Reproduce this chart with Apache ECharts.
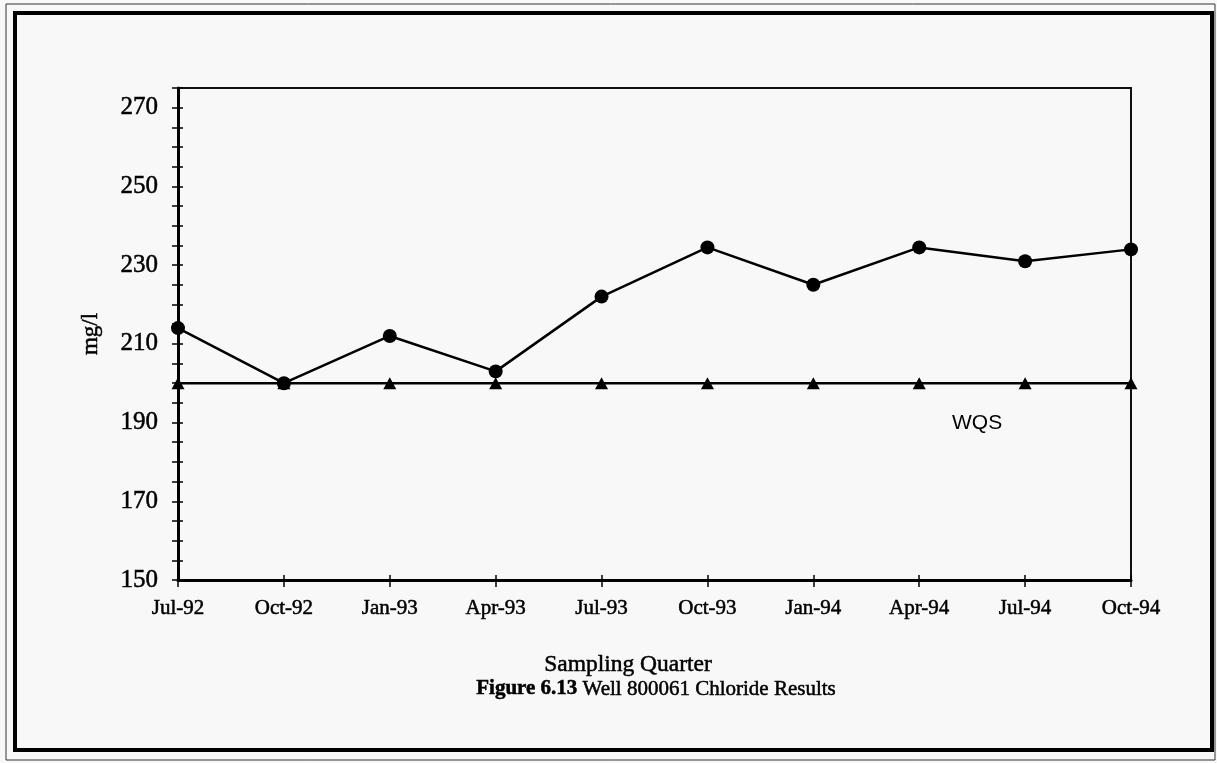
<!DOCTYPE html>
<html>
<head>
<meta charset="utf-8">
<script src="https://cdn.jsdelivr.net/npm/echarts@6/dist/echarts.min.js"></script>
<style>
  html, body { margin: 0; padding: 0; background: #f8f8f8; }
  #chart { width: 1217px; height: 763px; }
</style>
</head>
<body>
<div id="chart"></div>
<script>
// Sampling quarters and measured chloride concentrations (mg/l)
const quarters = ['Jul-92', 'Oct-92', 'Jan-93', 'Apr-93', 'Jul-93', 'Oct-93', 'Jan-94', 'Apr-94', 'Jul-94', 'Oct-94'];
const chloride = [214, 200, 212, 203, 222, 234.5, 225, 234.5, 231, 234];
// Water quality standard for chloride
const wqs = [200, 200, 200, 200, 200, 200, 200, 200, 200, 200];
const yLabels = [150, 170, 190, 210, 230, 250, 270];

const serif = '"Liberation Serif", "Times New Roman", serif';
// slight outline gives the heavy, printed look of the type
const ink = { textBorderColor: '#000', textBorderWidth: 0.5 };
const chart = echarts.init(document.getElementById('chart'));

const commonX = {
  type: 'category',
  data: quarters,
  boundaryGap: false,
  gridIndex: 0
};
const commonY = {
  type: 'value',
  min: 150,
  max: 275,
  interval: 5
};

chart.setOption({
  backgroundColor: '#f8f8f8',
  animation: false,
  grid: {
    left: 178, top: 88, right: 86, bottom: 183,
    show: true, borderColor: '#111', borderWidth: 2, backgroundColor: 'transparent'
  },
  xAxis: [
    Object.assign({}, commonX, {
      position: 'bottom',
      axisLine: { show: true, lineStyle: { color: '#000', width: 3 } },
      axisTick: { show: true, alignWithLabel: true, length: 7, lineStyle: { color: '#000', width: 1.5 } },
      axisLabel: Object.assign({ color: '#000', fontFamily: serif, fontSize: 21, margin: 18 }, ink),
      splitLine: { show: false }
    }),
    Object.assign({}, commonX, {
      position: 'bottom',
      axisLine: { show: false },
      axisTick: { show: true, inside: true, length: 5, lineStyle: { color: '#000', width: 1.5 } },
      axisLabel: { show: false },
      splitLine: { show: false }
    })
  ],
  yAxis: [
    Object.assign({}, commonY, {
      position: 'left',
      name: 'mg/l',
      nameLocation: 'middle',
      nameRotate: 90,
      nameGap: 76,
      nameTextStyle: Object.assign({ color: '#000', fontFamily: serif, fontSize: 23 }, ink),
      axisLine: { show: true, lineStyle: { color: '#000', width: 3 } },
      axisTick: { show: true, length: 6, lineStyle: { color: '#000', width: 1.5 } },
      axisLabel: Object.assign({
        color: '#000', fontFamily: serif, fontSize: 25, margin: 20,
        formatter: v => (yLabels.indexOf(v) >= 0 ? String(v) : '')
      }, ink),
      splitLine: { show: false }
    }),
    Object.assign({}, commonY, {
      position: 'left',
      axisLine: { show: false },
      axisTick: { show: true, inside: true, length: 5, lineStyle: { color: '#000', width: 1.5 } },
      axisLabel: { show: false },
      splitLine: { show: false }
    })
  ],
  series: [
    {
      name: 'WQS',
      type: 'line',
      data: wqs,
      symbol: 'triangle',
      symbolSize: [13, 12],
      showAllSymbol: true,
      lineStyle: { color: '#000', width: 2.5 },
      itemStyle: { color: '#000' },
      z: 3
    },
    {
      name: 'Chloride',
      type: 'line',
      data: chloride,
      symbol: 'circle',
      symbolSize: 14,
      showAllSymbol: true,
      lineStyle: { color: '#000', width: 2.5 },
      itemStyle: { color: '#000' },
      z: 4
    }
  ],
  graphic: [
    // page frame: thin outer rule and heavy inner border
    { type: 'rect', shape: { x: 6, y: 4, width: 1209, height: 756 }, style: { fill: 'none', stroke: '#333', lineWidth: 1 }, silent: true },
    { type: 'rect', shape: { x: 15, y: 13, width: 1197, height: 737 }, style: { fill: 'none', stroke: '#000', lineWidth: 4 }, silent: true },
    { type: 'text', left: 952, top: 413, style: { text: 'WQS', font: '21px "Liberation Sans", Arial, sans-serif', fill: '#000' } },
    { type: 'text', x: 628, y: 665, style: Object.assign({ text: 'Sampling Quarter', font: '23.5px ' + serif, fill: '#000', align: 'center', verticalAlign: 'middle' }, { stroke: '#000', lineWidth: 0.5 }) },
    {
      type: 'text', x: 656, y: 689,
      style: {
        text: '{b|Figure 6.13} Well 800061 Chloride Results',
        font: '21px ' + serif, fill: '#000', stroke: '#000', lineWidth: 0.5,
        align: 'center', verticalAlign: 'middle',
        rich: { b: { fontWeight: 'bold', fontFamily: serif, fontSize: 21, fill: '#000' } }
      }
    }
  ]
});
</script>
</body>
</html>
